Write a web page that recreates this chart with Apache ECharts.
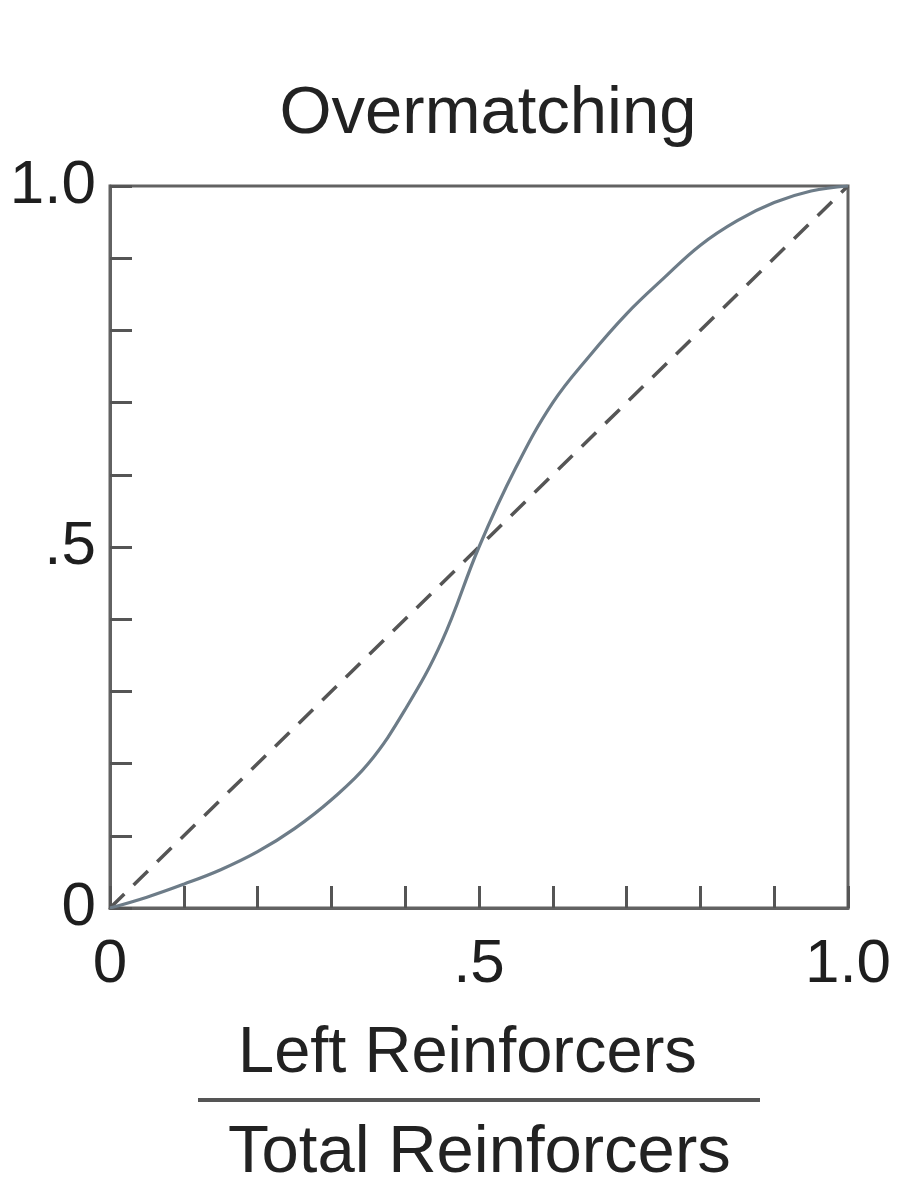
<!DOCTYPE html>
<html>
<head>
<meta charset="utf-8">
<script src="https://cdn.jsdelivr.net/npm/echarts@6/dist/echarts.min.js"></script>
<style>html,body{margin:0;padding:0;background:#fff;}#c{width:901px;height:1200px;}</style>
</head>
<body>
<div id="c"></div>
<script>
const titleText = 'Overmatching';
const xNameTop = 'Left Reinforcers';
const xNameBottom = 'Total Reinforcers';
const tickLabels = {0: '0', 0.5: '.5', 1: '1.0'};
const curveX = [0, 0.05, 0.1, 0.15, 0.2, 0.25, 0.3, 0.35, 0.4, 0.45, 0.5, 0.55, 0.6, 0.65, 0.7, 0.75, 0.8, 0.85, 0.9, 0.95, 1.0];
const curveY = [0, 0.015, 0.033, 0.053, 0.078, 0.11, 0.15, 0.2, 0.275, 0.37, 0.5, 0.61, 0.70, 0.765, 0.823, 0.872, 0.918, 0.952, 0.977, 0.993, 1.0];
const diagX = [0, 1];
const diagY = [0, 1];

const chart = echarts.init(document.getElementById('c'));
const fmt = v => {
  const k = Math.round(v * 10) / 10;
  return tickLabels[k] !== undefined ? tickLabels[k] : '';
};
const font = 'Liberation Sans, Arial, sans-serif';
const axisCommon = {
  type: 'value', min: 0, max: 1, interval: 0.1,
  axisLine: {show: true, lineStyle: {color: '#626262', width: 3}},
  axisTick: {show: true, inside: true, length: 22, lineStyle: {color: '#555', width: 3}},
  splitLine: {show: false},
  axisLabel: {formatter: fmt, color: '#1e1e1e', fontSize: 62, fontFamily: font, showMinLabel: true, showMaxLabel: true}
};
chart.setOption({
  backgroundColor: '#fff',
  animation: false,
  title: {text: titleText, left: 483, top: 76, textAlign: 'center',
    textStyle: {fontSize: 67, fontWeight: 'normal', color: '#222', fontFamily: font}},
  grid: {left: 110, right: 53, top: 186, bottom: 292, show: true, borderColor: '#626262', borderWidth: 3, backgroundColor: 'transparent'},
  xAxis: Object.assign({}, axisCommon, {axisLabel: Object.assign({}, axisCommon.axisLabel, {margin: 26})}),
  yAxis: Object.assign({}, axisCommon, {axisLabel: Object.assign({}, axisCommon.axisLabel, {margin: 14})}),
  series: [
    {type: 'line', data: diagX.map((x, i) => [x, diagY[i]]), showSymbol: false,
      lineStyle: {color: '#555', width: 3.5, type: [20, 13]}},
    {type: 'line', smooth: 0.4, data: curveX.map((x, i) => [x, curveY[i]]), showSymbol: false,
      lineStyle: {color: '#6d7c88', width: 3.2}}
  ],
  graphic: [
    {type: 'text', left: 238, top: 1022, style: {text: xNameTop, fontSize: 65, fill: '#222', fontFamily: font}},
    {type: 'rect', shape: {x: 198, y: 1098, width: 562, height: 4}, style: {fill: '#555'}},
    {type: 'text', left: 228, top: 1120, style: {text: xNameBottom, fontSize: 67, fill: '#222', fontFamily: font}}
  ]
});
</script>
</body>
</html>
